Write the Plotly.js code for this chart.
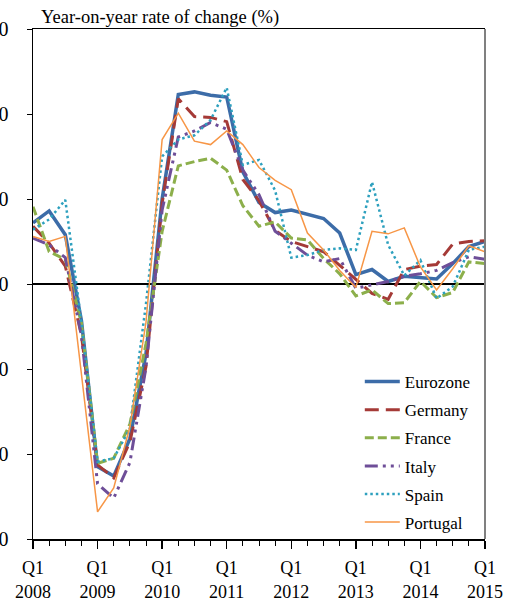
<!DOCTYPE html>
<html>
<head>
<meta charset="utf-8">
<script src="https://cdn.plot.ly/plotly-3.0.1.min.js"></script>
<style>html,body{margin:0;padding:0;background:#fff;}#chart{width:505px;height:601px;}</style>
</head>
<body>
<div id="chart"></div>
<script>
// Quarters 2008Q1 .. 2015Q1
var quarters = ["2008Q1","2008Q2","2008Q3","2008Q4","2009Q1","2009Q2","2009Q3","2009Q4",
  "2010Q1","2010Q2","2010Q3","2010Q4","2011Q1","2011Q2","2011Q3","2011Q4",
  "2012Q1","2012Q2","2012Q3","2012Q4","2013Q1","2013Q2","2013Q3","2013Q4",
  "2014Q1","2014Q2","2014Q3","2014Q4","2015Q1"];

var eurozone = [7.2, 8.6, 5.8, -4.3, -21.5, -22.6, -18.2, -8.2, 10.0, 22.3, 22.6, 22.2, 22.0, 13.2, 9.6, 8.4, 8.7, 8.2, 7.7, 6.0, 1.1, 1.7, 0.3, 0.9, 0.8, 0.6, 2.4, 4.4, 5.0];
var germany  = [6.8, 4.8, 2.1, -6.0, -21.3, -22.8, -18.6, -9.7, 9.5, 21.8, 19.7, 19.6, 19.1, 12.3, 9.8, 6.3, 5.0, 4.4, 3.8, 2.2, 0.5, -1.1, -1.8, 1.7, 2.1, 2.3, 4.7, 5.0, 5.1];
var france   = [9.1, 3.8, 2.9, -4.6, -21.1, -20.5, -16.5, -7.0, 6.2, 13.9, 14.4, 14.8, 13.4, 9.2, 6.8, 7.3, 5.4, 5.2, 3.0, 1.2, -1.4, -0.7, -2.3, -2.2, 0.3, -1.6, -1.0, 2.6, 2.4];
var italy    = [5.4, 4.6, 3.1, -6.0, -23.5, -25.2, -21.0, -9.8, 8.7, 17.3, 18.0, 19.0, 18.2, 13.4, 10.5, 6.2, 4.8, 3.4, 2.6, 3.0, -0.5, -0.1, 0.3, 0.9, 1.2, 1.6, 2.5, 3.2, 2.9];
var spain    = [6.4, 7.6, 9.9, -4.5, -20.9, -20.5, -17.0, -2.3, 15.0, 17.0, 17.5, 19.3, 23.1, 14.0, 14.6, 11.0, 3.1, 3.4, 4.0, 4.2, 4.0, 12.0, 4.6, 1.0, 2.8, -1.7, -0.3, 4.0, 4.4];
var portugal = [5.6, 5.0, 5.6, -10.6, -26.8, -24.0, -16.8, -4.5, 17.0, 20.1, 16.8, 16.4, 18.0, 16.4, 13.7, 12.2, 11.1, 6.0, 4.0, 1.6, -0.4, 6.2, 5.9, 6.6, 2.0, -0.7, 1.8, 4.5, 3.8];

var yTicks = [-30, -20, -10, 0, 10, 20, 30];
var xTickYears = [2008, 2009, 2010, 2011, 2012, 2013, 2014, 2015];

var x = quarters.map(function (q) {
  return parseInt(q.slice(0, 4), 10) + (parseInt(q.slice(5), 10) - 1) / 4;
});

var FONT = "Liberation Serif";

function tr(name, y, color, width, dash, i) {
  return {
    type: "scatter", mode: "lines", name: name, x: x, y: y,
    line: {color: color, width: width, dash: dash},
    legendgroup: "g" + i
  };
}

var data = [
  tr("Eurozone", eurozone, "rgb(60,108,168)", 3.5, "solid", 1),
  tr("Germany", germany, "rgb(165,58,55)", 3, "14px,7px", 2),
  tr("France", france, "rgb(140,175,75)", 3, "9px,4px", 3),
  tr("Italy", italy, "rgb(110,78,152)", 3, "13px,5px,3px,5px,3px,5px", 4),
  tr("Spain", spain, "rgb(45,160,190)", 2.5, "2.5px,3px", 5),
  tr("Portugal", portugal, "rgb(247,150,70)", 1.5, "solid", 6)
];

var layout = {
  width: 505, height: 601,
  margin: {l: 33, r: 20, t: 29, b: 62, pad: 0},
  paper_bgcolor: "#fff", plot_bgcolor: "#fff",
  font: {family: FONT, color: "#000", size: 18},
  showlegend: true,
  legend: {
    x: 0.723, y: 0.343, xanchor: "left", yanchor: "top",
    font: {family: FONT, size: 17, color: "#000"},
    bgcolor: "rgba(255,255,255,0)", borderwidth: 0,
    tracegroupgap: 3, traceorder: "grouped", itemwidth: 35
  },
  xaxis: {
    range: [2008, 2015], tickmode: "array", tickvals: xTickYears,
    ticktext: xTickYears.map(function (y) { return "Q1<br>" + y; }),
    showgrid: false, zeroline: false,
    showline: true, linecolor: "#000", linewidth: 1.5, mirror: true,
    ticks: "outside", ticklen: 8, tickwidth: 1.5, tickcolor: "#000",
    ticklabelstandoff: 4,
    minor: {dtick: 0.25, tick0: 2008, ticks: "outside", ticklen: 5, tickwidth: 1, tickcolor: "#000", showgrid: false},
    tickfont: {family: FONT, size: 18, color: "#000"},
    fixedrange: true
  },
  yaxis: {
    range: [-30, 30], tickmode: "array", tickvals: yTicks,
    ticktext: yTicks.map(String),
    showgrid: false,
    zeroline: true, zerolinecolor: "#000", zerolinewidth: 1.5,
    showline: true, linecolor: "#000", linewidth: 1.5,
    ticks: "outside", ticklen: 5, tickwidth: 1, tickcolor: "#000",
    ticklabelstandoff: 14,
    tickfont: {family: FONT, size: 20, color: "#000"},
    fixedrange: true
  },
  shapes: [
    {type: "line", xref: "paper", yref: "paper", x0: 1, x1: 1, y0: 0, y1: 1,
     line: {color: "#808080", width: 2}}
  ],
  annotations: [
    {text: "Year-on-year rate of change (%)", xref: "paper", yref: "paper",
     x: 0.015, y: 1, xanchor: "left", yanchor: "bottom", showarrow: false,
     font: {family: FONT, size: 18.5, color: "#000"}, borderpad: 0}
  ]
};

Plotly.newPlot("chart", data, layout, {staticPlot: true, displayModeBar: false});
</script>
</body>
</html>
